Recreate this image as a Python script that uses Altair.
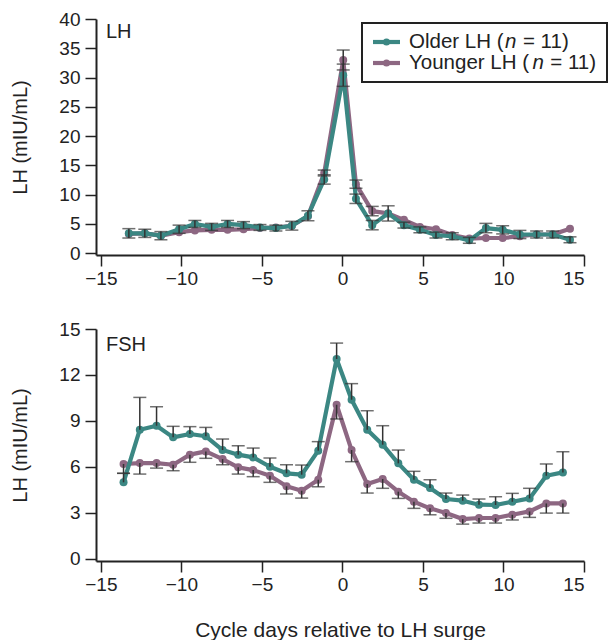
import altair as alt
import pandas as pd

# ---------------- data ----------------
days_lh = [-13.26, -12.27, -11.27, -10.14, -9.16, -8.12, -7.13, -6.14, -5.12, -4.13,
           -3.14, -2.14, -1.13, 0.05, 0.84, 1.85, 2.84, 3.82, 4.81, 5.81,
           6.82, 7.88, 8.91, 9.95, 11.02, 12.06, 13.05, 14.13]
lh_older = [3.4, 3.4, 3.0, 4.1, 5.0, 4.5, 5.0, 4.8, 4.4, 4.3,
            4.7, 6.4, 12.6, 30.4, 9.3, 4.8, 6.8, 4.8, 4.0, 3.1,
            2.9, 2.2, 4.3, 4.0, 3.2, 3.2, 3.2, 2.3]
lh_older_sem = [0.8, 0.7, 0.7, 0.7, 0.6, 0.6, 0.6, 0.6, 0.5, 0.5,
                0.75, 0.85, 0.8, 1.9, 0.8, 0.8, 1.3, 0.5, 0.5, 0.5,
                0.6, 0.5, 0.8, 0.7, 0.7, 0.6, 0.6, 0.5]
lh_younger = [3.3, 3.4, 3.0, 3.6, 3.9, 4.0, 4.0, 4.1, 4.3, 4.4,
              4.7, 6.3, 13.7, 33.0, 11.8, 7.2, 6.8, 5.7, 4.5, 4.1,
              3.1, 2.5, 2.6, 2.6, 2.9, 3.2, 3.2, 4.2]
lh_younger_sem = [0, 0, 0, 0, 0, 0, 0, 0, 0, 0,
                  0, 0, 0.5, 1.7, 0.7, 0.8, 0, 0, 0, 0,
                  0, 0, 0, 0, 0, 0, 0, 0]

days_fsh = [-13.59, -12.58, -11.54, -10.51, -9.47, -8.48, -7.44, -6.47, -5.54, -4.5,
            -3.47, -2.53, -1.5, -0.36, 0.57, 1.54, 2.5, 3.47, 4.44, 5.44,
            6.43, 7.47, 8.48, 9.51, 10.55, 11.62, 12.66, 13.69]
fsh_older = [4.98, 8.42, 8.68, 7.92, 8.14, 7.99, 7.09, 6.79, 6.61, 6.0,
             5.57, 5.48, 7.05, 13.04, 10.38, 8.42, 7.44, 6.22, 5.15, 4.61,
             3.89, 3.78, 3.52, 3.5, 3.71, 3.93, 5.41, 5.63]
fsh_older_sem = [0.59, 2.11, 1.24, 0.72, 0.48, 0.58, 0.72, 0.58, 0.61, 0.57,
                 0.56, 0.63, 0.59, 1.04, 1.05, 1.24, 1.24, 0.87, 0.55, 0.54,
                 0.39, 0.37, 0.37, 0.54, 0.55, 0.66, 0.77, 1.35]
fsh_younger = [6.18, 6.24, 6.24, 6.13, 6.79, 7.0, 6.5, 5.96, 5.78, 5.41,
               4.72, 4.43, 5.15, 10.05, 7.09, 4.87, 5.2, 4.37, 3.71, 3.28,
               2.97, 2.58, 2.65, 2.65, 2.86, 3.08, 3.6, 3.6]
fsh_younger_sem = [0.61, 0.72, 0.33, 0.39, 0.5, 0.45, 0.37, 0.44, 0.43, 0.43,
                   0.5, 0.48, 0.46, 0.93, 0.76, 0.59, 0.61, 0.44, 0.43, 0.42,
                   0.34, 0.33, 0.33, 0.33, 0.34, 0.39, 0.63, 0.63]

x_ticks = [-15, -10, -5, 0, 5, 10, 15]
lh_ticks = [0, 5, 10, 15, 20, 25, 30, 35, 40]
fsh_ticks = [0, 3, 6, 9, 12, 15]

legend_labels = ["Older LH (", "Younger LH ("]
legend_n = "n"
legend_tail = "= 11)"

# ---------------- styling ----------------
TEAL = "#3b8783"
PURPLE = "#8d6782"
INK = "#222222"
FONT = "Liberation Sans"
W = 488
H_TOP = 236
H_BOT = 232
LEG_FS = 20.5

# Arial/Liberation Sans advance widths (em) for legend text layout
ADV = {"O": .778, "l": .222, "d": .556, "e": .556, "r": .333, " ": .278, "L": .556,
       "H": .722, "(": .333, "Y": .667, "o": .556, "u": .556, "n": .556, "g": .556}


def text_width(s, fs):
    return sum(ADV.get(c, .556) for c in s) * fs


def panel(days, old, old_err, young, young_err, ydomain, yticks, height,
          label, label_y, xtitle, symmetric):
    rows = []
    for grp, vals, errs in (("Younger", young, young_err), ("Older", old, old_err)):
        for d, v, e in zip(days, vals, errs):
            if symmetric:
                lo, hi = v - e, v + e
            elif grp == "Older":
                lo, hi = v, v + e
            else:
                lo, hi = v - e, v
            rows.append(dict(day=d, value=v, err=e, lo=lo, hi=hi, group=grp))
    df = pd.DataFrame(rows)
    eb = df[df.err > 0]
    caps = []
    for _, r in eb.iterrows():
        if r.hi > r.value:
            caps.append(dict(day=r.day, cap=r.hi))
        if r.lo < r.value:
            caps.append(dict(day=r.day, cap=r.lo))
    caps = pd.DataFrame(caps)

    if xtitle:
        xaxis = alt.Axis(values=x_ticks, title=xtitle, titleY=69,
                         titleBaseline="middle", titleX=W / 2, titleFontSize=21,
                         labelOverlap=False)
    else:
        xaxis = alt.Axis(values=x_ticks, title=None, labelOverlap=False)
    yaxis = alt.Axis(values=yticks, tickCount=len(yticks), title="LH (mIU/mL)",
                     titleX=-76, titleY=height / 2, titleBaseline="middle",
                     titleAlign="center", titleAngle=270, labelOverlap=False)
    xs = alt.Scale(domain=[-15.3, 15], nice=False, zero=False)
    ys = alt.Scale(domain=ydomain, nice=False, zero=False)

    def X():
        return alt.X("day:Q", scale=xs, axis=xaxis)

    def Y(f):
        return alt.Y(f, scale=ys, axis=yaxis)

    layers = []
    for grp, col in (("Younger", PURPLE), ("Older", TEAL)):
        sub = df[df.group == grp]
        layers.append(
            alt.Chart(sub).mark_line(strokeWidth=4.2, color=col, strokeJoin="round")
            .encode(x=X(), y=Y("value:Q"), order="day:Q")
        )
        layers.append(
            alt.Chart(sub).mark_point(filled=True, size=64, color=col, opacity=1)
            .encode(x=X(), y=Y("value:Q"))
        )
    layers.append(
        alt.Chart(eb).mark_rule(color="#333333", strokeWidth=1.5)
        .encode(x=X(), y=Y("lo:Q"), y2="hi:Q")
    )
    layers.append(
        alt.Chart(caps).mark_tick(orient="horizontal", size=13, thickness=1.5,
                                  color="#333333")
        .encode(x=X(), y=Y("cap:Q"))
    )
    one = pd.DataFrame({"k": [0]})
    layers.append(
        alt.Chart(one).mark_text(text=label, align="left", baseline="middle",
                                 font=FONT, fontSize=20, color=INK)
        .encode(x=alt.value(10), y=alt.value(label_y))
    )
    return layers, one


# ---- top (LH) panel ----
top_layers, one = panel(days_lh, lh_older, lh_older_sem, lh_younger, lh_younger_sem,
                        [-0.3, 40], lh_ticks, H_TOP, "LH", 13, None, True)

# legend box (decoration)
lx0, lx1, ly0, ly1 = 266, 511, 4, 63
top_layers.append(
    alt.Chart(one).mark_rect(fill="white", stroke=INK, strokeWidth=2)
    .encode(x=alt.value(lx0), x2=alt.value(lx1), y=alt.value(ly0), y2=alt.value(ly1))
)
for i, (lab, col) in enumerate(zip(legend_labels, [TEAL, PURPLE])):
    yy = 23 + 21 * i
    top_layers.append(
        alt.Chart(one).mark_rule(color=col, strokeWidth=4.2)
        .encode(x=alt.value(277), x2=alt.value(304), y=alt.value(yy))
    )
    top_layers.append(
        alt.Chart(one).mark_point(filled=True, size=50, color=col, opacity=1)
        .encode(x=alt.value(290.5), y=alt.value(yy))
    )
    tx = 313
    w1 = text_width(lab, LEG_FS) + 1.5
    w2 = text_width(legend_n, LEG_FS) + 6.5
    top_layers.append(
        alt.Chart(one).mark_text(text=lab, align="left", baseline="middle",
                                 font=FONT, fontSize=LEG_FS, color=INK)
        .encode(x=alt.value(tx), y=alt.value(yy))
    )
    top_layers.append(
        alt.Chart(one).mark_text(text=legend_n, align="left", baseline="middle",
                                 font=FONT, fontSize=LEG_FS, fontStyle="italic", color=INK)
        .encode(x=alt.value(tx + w1), y=alt.value(yy))
    )
    top_layers.append(
        alt.Chart(one).mark_text(text=legend_tail, align="left", baseline="middle",
                                 font=FONT, fontSize=LEG_FS, color=INK)
        .encode(x=alt.value(tx + w1 + w2), y=alt.value(yy))
    )

top = alt.layer(*top_layers).properties(width=W, height=H_TOP)

# ---- bottom (FSH) panel ----
bot_layers, _ = panel(days_fsh, fsh_older, fsh_older_sem, fsh_younger, fsh_younger_sem,
                      [-0.16, 15], fsh_ticks, H_BOT, "FSH", 16,
                      "Cycle days relative to LH surge", False)
bottom = alt.layer(*bot_layers).properties(width=W, height=H_BOT)

chart = (
    alt.vconcat(top, bottom, spacing=74, bounds="flush")
    .properties(padding={"left": 10, "top": 10, "right": 0, "bottom": 0})
    .configure_view(stroke=None)
    .configure_axis(
        grid=False, domainColor=INK, domainWidth=2, tickColor=INK, tickWidth=1.5,
        tickSize=11, labelFont=FONT, labelFontSize=19, labelColor=INK,
        titleFont=FONT, titleFontSize=20, titleFontWeight="normal", titleColor=INK,
        labelPadding=5
    )
    .configure_axisX(labelPadding=3)
)

chart.save("out.html", embed_options={"renderer": "svg", "actions": False})
